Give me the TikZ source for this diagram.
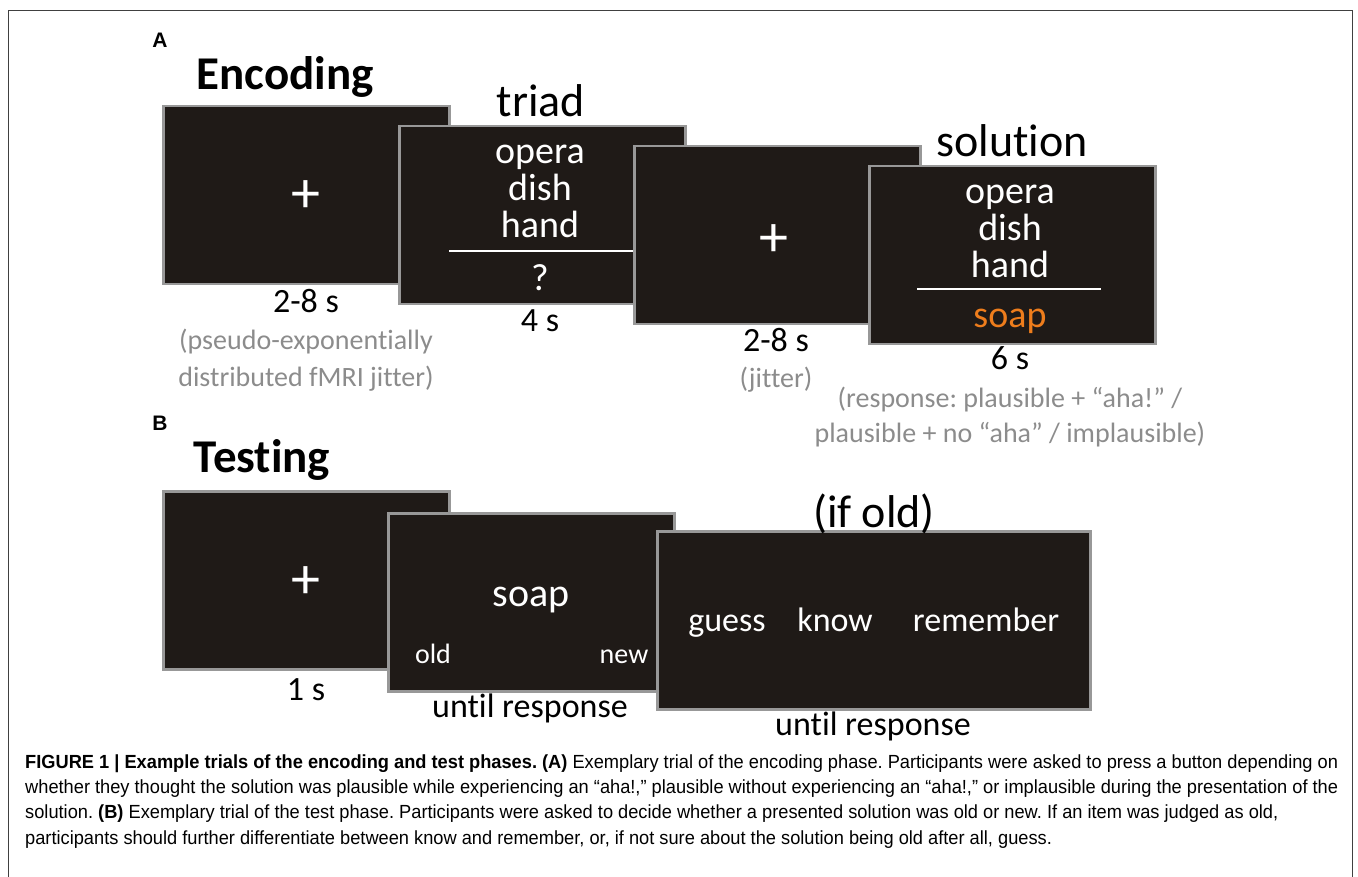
\documentclass[tikz,border=0pt]{standalone}
\usepackage{fontspec}
\setmainfont{Liberation Sans}
\newfontfamily\slidefont[Ligatures=CommonOff]{Carlito}
\newfontfamily\capfont[FakeStretch=0.96]{Liberation Sans}
\newcommand{\pxsize}[1]{\fontsize{#1}{#1}\selectfont}
\frenchspacing
\definecolor{ScreenClr}{RGB}{31,26,23}
\definecolor{EdgeClr}{RGB}{152,152,152}
\definecolor{NoteClr}{RGB}{140,140,140}
\definecolor{SolClr}{RGB}{238,125,28}
\tikzset{
  screen/.style={draw=EdgeClr,line width=2.5pt,fill=ScreenClr,inner sep=0pt,
    anchor=north west,minimum width=286pt,minimum height=178pt},
  word/.style={text=white,font=\slidefont\pxsize{38},anchor=base,inner sep=0pt},
  cross/.style={text=white,font=\slidefont\pxsize{58},inner sep=0pt},
  dur/.style={font=\slidefont\pxsize{34},anchor=base,inner sep=0pt},
  note/.style={text=NoteClr,font=\slidefont\pxsize{28},anchor=base,inner sep=0pt},
  head/.style={font=\slidefont\pxsize{46},anchor=base,inner sep=0pt},
  panel/.style={font=\bfseries\pxsize{21},anchor=base,inner sep=0pt},
  rule/.style={draw=white,line width=2.5pt},
  capline/.style={font=\capfont\pxsize{19},anchor=base west,inner sep=0pt}
}
\begin{document}
\begin{tikzpicture}[x=1pt,y=-1pt]
\useasboundingbox (0,0) rectangle (1358,877);
\draw[line width=1pt,black!75] (8,11) rectangle (1352,900);

% panel A: encoding
\node[panel] (labA) at (160,48) {A};
\node[head,font=\slidefont\bfseries\pxsize{47}] (enchead) at (285,90) {Encoding};
\node[screen] (encfix) at (162,105) {};
\node[cross] (encplus) at (306,197) {+};
\node[dur] (encdur) at (306,313) {2-8 s};
\node[note] (encnoteA) at (306,350) {(pseudo-exponentially};
\node[note] (encnoteB) at (306,386) {distributed fMRI jitter)};

\node[head] (triadhead) at (541,117) {triad};
\node[screen] (triad) at (398,125) {};
\node[word] (triadA) at (540,164) {opera};
\node[word] (triadB) at (540,201) {dish};
\node[word] (triadC) at (540,238) {hand};
\draw[rule] (449,251) -- (640,251);
\node[word] (triadQ) at (540,291) {?};
\node[dur] (triaddur) at (540,332) {4 s};

\node[screen] (jitfix) at (633,145) {};
\node[cross] (jitplus) at (774,241) {+};
\node[dur] (jitdur) at (776,352) {2-8 s};
\node[note] (jitnote) at (776,388) {(jitter)};

\node[head] (solhead) at (1012,157) {solution};
\node[screen] (sol) at (868,165) {};
\node[word] (solA) at (1010,204) {opera};
\node[word] (solB) at (1010,241) {dish};
\node[word] (solC) at (1010,278) {hand};
\draw[rule] (917,289) -- (1101,289);
\node[word,text=SolClr] (solS) at (1010,328) {soap};
\node[dur] (soldur) at (1010,370) {6 s};
\node[note] (solnoteA) at (1010,407) {(response: plausible + “aha!” /};
\node[note] (solnoteB) at (1010,442) {plausible + no “aha” / implausible)};

% panel B: testing
\node[panel] (labB) at (160,430) {B};
\node[head,font=\slidefont\bfseries\pxsize{47}] (testhead) at (262,472) {Testing};
\node[screen] (testfix) at (162,490) {};
\node[cross] (testplus) at (306,583) {+};
\node[dur] (testdur) at (306,700) {1 s};

\node[screen] (probe) at (387,512) {};
\node[word,font=\slidefont\pxsize{40}] (probeW) at (531,606) {soap};
\node[word,font=\slidefont\pxsize{28}] (probeO) at (433,663) {old};
\node[word,font=\slidefont\pxsize{28}] (probeN) at (624,663) {new};
\node[dur] (probedur) at (530,717) {until response};

\node[screen,minimum width=433pt] (judge) at (656,530) {};
\node[head] (judgehead) at (874,527) {(if old)};
\node[word,font=\slidefont\pxsize{34}] (judgeG) at (727,631) {guess};
\node[word,font=\slidefont\pxsize{34}] (judgeK) at (835,631) {know};
\node[word,font=\slidefont\pxsize{34}] (judgeR) at (986,631) {remember};
\node[dur] (judgedur) at (873,735) {until response};

% caption
\node[capline] (cap1) at (25,768) {{\bfseries FIGURE 1 | Example trials of the encoding and test phases. (A)} Exemplary trial of the encoding phase. Participants were asked to press a button depending on};
\node[capline] (cap2) at (25,793.3) {whether they thought the solution was plausible while experiencing an “aha!,” plausible without experiencing an “aha!,” or implausible during the presentation of the};
\node[capline] (cap3) at (25,818.6) {solution. {\bfseries (B)} Exemplary trial of the test phase. Participants were asked to decide whether a presented solution was old or new. If an item was judged as old,};
\node[capline] (cap4) at (25,844) {participants should further differentiate between know and remember, or, if not sure about the solution being old after all, guess.};
\end{tikzpicture}
\end{document}
